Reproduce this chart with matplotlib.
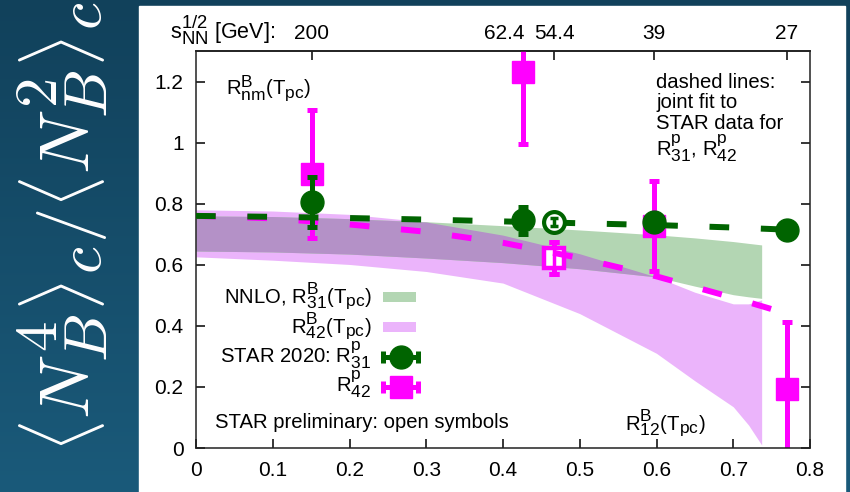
import numpy as np
import matplotlib
matplotlib.use("Agg")
import matplotlib.pyplot as plt
import matplotlib._mathtext as mathtext_internal
from matplotlib.patches import Rectangle
from matplotlib.colors import LinearSegmentedColormap
from matplotlib.ticker import FormatStrFormatter

plt.rcParams["font.family"] = ["Liberation Sans", "DejaVu Sans"]
plt.rcParams["mathtext.fontset"] = "custom"
plt.rcParams["mathtext.rm"] = "Liberation Sans"
plt.rcParams["mathtext.it"] = "Liberation Sans:italic"
plt.rcParams["mathtext.bf"] = "Liberation Sans:bold"
# gnuplot-like bigger sub/superscripts
mathtext_internal.SHRINK_FACTOR = 0.86

# STAR points: x = R12(Tpc) position of each beam energy
r12_star = np.array([0.1507, 0.4256, 0.4669, 0.5967, 0.7696])
energy_labels = ["200", "62.4", "54.4", "39", "27"]
is_open = np.array([False, False, True, False, False])  # STAR preliminary

r31_star = np.array([0.805, 0.745, 0.740, 0.740, 0.715])
r31_err = np.array([0.082, 0.043, 0.012, 0.010, 0.010])
r42_star = np.array([0.898, 1.230, 0.622, 0.726, 0.192])
r42_err = np.array([0.210, 0.235, 0.052, 0.147, 0.222])

# NNLO bands
band_x = np.array([0, 0.1, 0.2, 0.3, 0.4, 0.5, 0.6, 0.65, 0.7, 0.72, 0.737])
r31_hi = np.array([0.760, 0.758, 0.751, 0.741, 0.728, 0.714, 0.698, 0.688, 0.676, 0.670, 0.665])
r31_lo = np.array([0.645, 0.642, 0.635, 0.622, 0.607, 0.587, 0.560, 0.530, 0.502, 0.495, 0.490])
r42_hi = np.array([0.780, 0.776, 0.765, 0.740, 0.697, 0.636, 0.560, 0.510, 0.472, 0.472, 0.485])
r42_lo = np.array([0.626, 0.615, 0.601, 0.578, 0.540, 0.440, 0.310, 0.220, 0.135, 0.075, 0.010])

# joint fit (dashed)
fit_x = np.array([0, 0.1, 0.2, 0.3, 0.4, 0.5, 0.6, 0.7, 0.77])
fit31 = np.array([0.760, 0.757, 0.753, 0.748, 0.742, 0.736, 0.730, 0.722, 0.715])
fit42 = np.array([0.760, 0.752, 0.732, 0.708, 0.672, 0.622, 0.562, 0.492, 0.440])

green = "#006400"
magenta = "#ff00ff"
fs = 14.6

fig = plt.figure(figsize=(8.5, 4.92), dpi=100)

# slide background
bg = fig.add_axes([0, 0, 1, 1], zorder=-10)
cmap = LinearSegmentedColormap.from_list("bg", ["#11415b", "#1a5a7a"])
bg.imshow(np.linspace(0, 1, 256).reshape(-1, 1), aspect="auto", cmap=cmap,
          extent=[0, 1, 0, 1], origin="upper")
bg.add_patch(Rectangle((139 / 850, 0), (845 - 139) / 850, 1 - 6 / 492,
                       color="white", transform=bg.transAxes))
bg.axis("off")

fig.text(62 / 850, 1 - 226 / 492, r"$\langle N_B^4\rangle_c/\langle N_B^2\rangle_c$",
         rotation=90, color="white", fontsize=51, ha="center", va="center",
         math_fontfamily="cm")

ax = fig.add_axes([196 / 850, 44 / 492, 614 / 850, 397 / 492])
ax.set_xlim(0, 0.8)
ax.set_ylim(0, 1.3)
ax.set_xticks(np.arange(0, 0.81, 0.1))
ax.set_yticks(np.arange(0, 1.21, 0.2))
ax.xaxis.set_major_formatter(FormatStrFormatter("%g"))
ax.yaxis.set_major_formatter(FormatStrFormatter("%g"))
ax.tick_params(direction="in", length=6.5, width=1.1, labelsize=15, right=True, pad=9)
for s in ax.spines.values():
    s.set_linewidth(1.1)
    s.set_color("#222222")

# top axis: beam energies (62.4 label nudged left as in the original)
sec = ax.secondary_xaxis("top")
sec.set_xticks(r12_star, labels=[""] * len(r12_star))
sec.tick_params(direction="in", length=6.5, width=1.1)
sec.spines["top"].set_linewidth(1.1)
label_x = r12_star.copy()
label_x[1] = 0.401
for lx, lab in zip(label_x, energy_labels):
    ax.text(lx, 1.030, lab, transform=ax.get_xaxis_transform(), ha="center",
            va="baseline", fontsize=15)

# bands
ax.fill_between(band_x, r42_lo, r42_hi, color="#ebb4fb", lw=0, zorder=1)
ax.fill_between(band_x, r31_lo, r31_hi, color="#b3d6b3", lw=0, zorder=1)
ov_lo = np.maximum(r31_lo, r42_lo)
ov_hi = np.minimum(r31_hi, r42_hi)
ax.fill_between(band_x, ov_lo, ov_hi, where=ov_hi > ov_lo, interpolate=True,
                color="#b491c7", lw=0, zorder=1.1)

# R42 data
ax.errorbar(r12_star, r42_star, yerr=r42_err, fmt="none", ecolor=magenta,
            elinewidth=3.6, capsize=3.6, capthick=3.6, zorder=2)
ax.plot(r12_star[~is_open], r42_star[~is_open], "s", color=magenta, ms=16, zorder=2)
ax.plot(r12_star[is_open], r42_star[is_open], "s", mfc="white", mec=magenta,
        mew=3.2, ms=14, zorder=2.5)
ax.errorbar(r12_star[is_open], r42_star[is_open], yerr=r42_err[is_open], fmt="none",
            ecolor=magenta, elinewidth=2.5, capsize=3.6, capthick=3.6, zorder=2.6)

# fits
ax.plot(fit_x, fit42, color=magenta, lw=4.3, dashes=(3.3, 5.3),
        dash_capstyle="butt", zorder=3)
ax.plot(fit_x, fit31, color=green, lw=4.3, dashes=(3.3, 5.3),
        dash_capstyle="butt", zorder=3)

# R31 data
ax.errorbar(r12_star, r31_star, yerr=r31_err, fmt="none", ecolor=green,
            elinewidth=3.6, capsize=3.6, capthick=3.6, zorder=4)
ax.plot(r12_star[~is_open], r31_star[~is_open], "o", color=green, ms=16.5, zorder=4)
ax.plot(r12_star[is_open], r31_star[is_open], "o", mfc="white", mec=green,
        mew=3.0, ms=15, zorder=4.5)
ax.errorbar(r12_star[is_open], r31_star[is_open], yerr=r31_err[is_open], fmt="none",
            ecolor=green, elinewidth=2.5, capsize=3.0, capthick=2.5, zorder=4.6)

# key
ax.text(0.229, 0.475, r"NNLO, $\mathrm{R^{B}_{31}(T_{pc})}$", ha="right", va="baseline", fontsize=fs)
ax.add_patch(Rectangle((0.244, 0.478), 0.042, 0.033, color="#b3d6b3", lw=0))
ax.text(0.229, 0.376, r"$\mathrm{R^{B}_{42}(T_{pc})}$", ha="right", va="baseline", fontsize=fs)
ax.add_patch(Rectangle((0.244, 0.380), 0.042, 0.033, color="#ebb4fb", lw=0))
ax.text(0.229, 0.278, r"STAR 2020: $\mathrm{R^{p}_{31}}$", ha="right", va="baseline", fontsize=fs)
ax.errorbar(0.267, 0.298, xerr=0.0228, fmt="o", color=green, ms=16.5,
            elinewidth=3.6, capsize=4.3, capthick=3.6, zorder=4)
ax.text(0.229, 0.183, r"$\mathrm{R^{p}_{42}}$", ha="right", va="baseline", fontsize=fs)
ax.errorbar(0.267, 0.200, xerr=0.0228, fmt="s", color=magenta, ms=16,
            elinewidth=3.6, capsize=4.3, capthick=3.6, zorder=4)

ax.text(0.025, 0.065, "STAR preliminary: open symbols", fontsize=fs, va="baseline")
ax.text(0.559, 0.059, r"$\mathrm{R^{B}_{12}(T_{pc})}$", fontsize=fs, va="baseline")
ax.text(0.039, 1.158, r"$\mathrm{R^{B}_{nm}(T_{pc})}$", fontsize=fs, va="baseline")

note = ["dashed lines:", "joint fit to", "STAR data for",
        r"$\mathrm{R^{p}_{31}}$, $\mathrm{R^{p}_{42}}$"]
for line, yb in zip(note, [1.180, 1.112, 1.045, 0.955]):
    ax.text(0.60, yb, line, fontsize=fs, va="baseline")

fig.text(170 / 850, 1 - 39 / 492, r"$\mathrm{s_{NN}^{1/2}}$ [GeV]:", fontsize=15.5, va="baseline")

fig.savefig("out.png", dpi=100)
